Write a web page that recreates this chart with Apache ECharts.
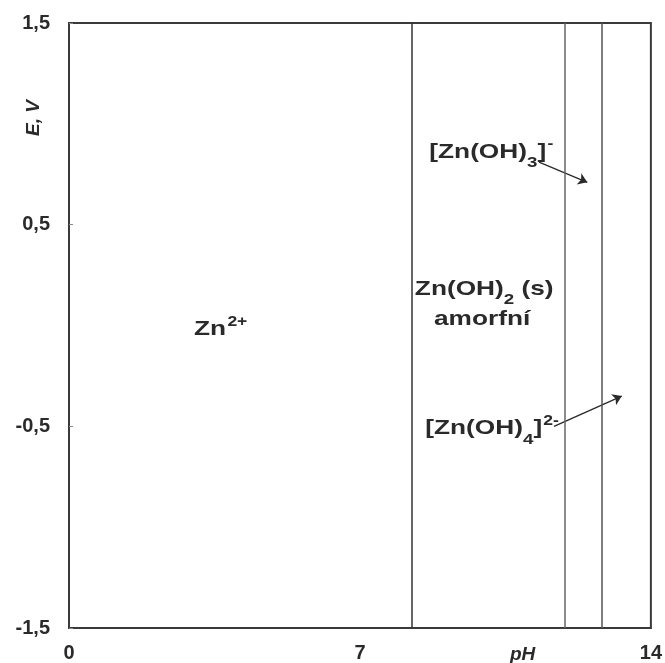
<!DOCTYPE html>
<html><head><meta charset="utf-8">
<script src="https://cdn.jsdelivr.net/npm/echarts@6/dist/echarts.min.js"></script>
<style>html,body{margin:0;padding:0;background:#fff}#c{width:665px;height:663px}</style>
</head><body><div id="c"></div>
<script>
// Axis ranges and ticks
const xTicks = [0, 7, 14];
const yTicks = [-1.5, -0.5, 0.5, 1.5];
// Phase boundaries (pH)
const boundaries = [8.24, 11.93, 12.82];
const boundaryColors = ['#333', '#666', '#555'];
// Region labels: [pH, E, text key]
const labelPoints = [
  [3.65, -0.01, 'zn'],
  [9.99, 0.17, 'znoh2'],
  [9.94, 0.04, 'amorf'],
  [10.16, 0.85, 'znoh3'],
  [10.18, -0.52, 'znoh4']
];
// Arrows: [[x1,y1],[x2,y2]]
const arrows = [
  [[11.31, 0.81], [12.47, 0.71]],
  [[11.67, -0.50], [13.30, -0.35]]
];

const TXT = '#2a2a2a';
const rich = {
  b: {fontSize: 21, fontWeight: 'bold', color: TXT, fontFamily: 'Liberation Sans', verticalAlign: 'top', padding: [4, 0, 0, 0]},
  sub: {fontSize: 15, fontWeight: 'bold', color: TXT, fontFamily: 'Liberation Sans', verticalAlign: 'top', padding: [18, 0, 0, 0]},
  sup: {fontSize: 14, fontWeight: 'bold', color: TXT, fontFamily: 'Liberation Sans', verticalAlign: 'top', padding: [0, 0, 0, 1]}
};
const texts = {
  zn: '{b|Zn}{sup|2+}',
  znoh2: '{b|Zn(OH)}{sub|2}{b| (s)}',
  amorf: '{b|amorfní}',
  znoh3: '{b|[Zn(OH)}{sub|3}{b|]}{sup|-}',
  znoh4: '{b|[Zn(OH)}{sub|4}{b|]}{sup|2-}'
};

const chart = echarts.init(document.getElementById('c'));
const tickFont = {fontSize: 20, fontWeight: 'bold', color: TXT, fontFamily: 'Liberation Sans'};
chart.setOption({
  animation: false,
  grid: {left: 69, right: 13, top: 23, bottom: 35, show: true, borderColor: '#3a3a3a', borderWidth: 2, backgroundColor: 'transparent'},
  xAxis: {
    type: 'value', min: 0, max: 14, interval: 7,
    axisLine: {show: true, onZero: false, lineStyle: {color: '#3a3a3a', width: 2}},
    axisTick: {show: false}, splitLine: {show: false},
    axisLabel: Object.assign({margin: 15, formatter: v => xTicks.includes(v) ? String(v) : ''}, tickFont)
  },
  yAxis: {
    type: 'value', min: -1.5, max: 1.5, interval: 1,
    axisLine: {show: true, onZero: false, lineStyle: {color: '#3a3a3a', width: 2}},
    axisTick: {show: true, inside: true, length: 4, lineStyle: {color: '#888'}},
    splitLine: {show: false},
    axisLabel: Object.assign({margin: 19, formatter: v => yTicks.some(t => Math.abs(t - v) < 1e-9) ? String(v).replace('.', ',') : ''}, tickFont)
  },
  graphic: [
    {type: 'text', left: 24, top: 100, rotation: Math.PI / 2, style: {text: 'E, V', font: 'italic bold 19px "Liberation Sans"', fill: TXT}},
    {type: 'text', left: 510, top: 645, style: {text: 'pH', font: 'italic bold 19px "Liberation Sans"', fill: TXT}}
  ],
  series: [
    {
      type: 'line', data: [], silent: true,
      markLine: {
        symbol: ['none', 'none'], silent: true, label: {show: false},
        data: boundaries.map((b, i) => ({xAxis: b, lineStyle: {color: boundaryColors[i], width: 1.5, type: 'solid'}}))
      }
    },
    {
      type: 'lines', coordinateSystem: 'cartesian2d', silent: true,
      symbol: ['none', 'arrow'], symbolSize: 9,
      lineStyle: {color: TXT, width: 1.3, opacity: 1},
      data: arrows.map(a => ({coords: a}))
    },
    {
      type: 'custom', silent: true,
      data: labelPoints.map(p => [p[0], p[1]]),
      renderItem: (params, api) => {
        const pt = api.coord([api.value(0), api.value(1)]);
        const key = labelPoints[params.dataIndex][2];
        return {
          type: 'text', x: pt[0], y: pt[1], scaleX: 1.25,
          style: {text: texts[key], rich: rich, align: 'center', verticalAlign: 'middle', fill: TXT}
        };
      }
    }
  ]
});
</script></body></html>
